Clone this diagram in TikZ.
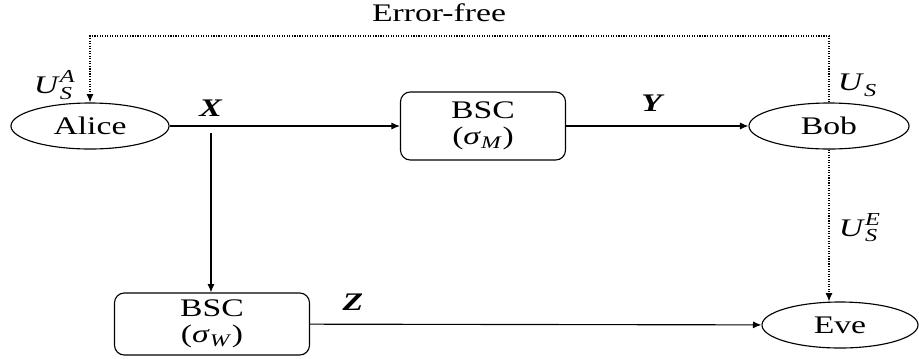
\documentclass[tikz,border=0pt]{standalone}
\usepackage{fontspec}
\setmainfont[FakeStretch=1.33]{Liberation Serif}
\usetikzlibrary{positioning}
\usetikzlibrary{shapes.geometric, arrows.meta}
\newcommand\idx[1]{{\fontsize{13}{13}\selectfont\textit{#1}}}
\newcommand\symb[3]{\textit{#1}\makebox[0pt][l]{\raisebox{7.5pt}{\idx{#3}}}\raisebox{-4pt}{\idx{#2}}}
\tikzstyle{party} = [ellipse, draw=black, line width=0.8pt, minimum width=3.95cm, minimum height=1.15cm, inner sep=0pt]
\tikzstyle{channel} = [rectangle, rounded corners=7pt, draw=black, line width=0.8pt, align=center, text centered, inner sep=0pt]
\tikzstyle{arrow} = [line width=0.8pt,-{Latex[length=6pt,width=5pt]}]
\tikzstyle{dotarrow} = [line width=0.8pt,densely dotted,-{Latex[length=6pt,width=5pt]}]

\begin{document}
\begin{tikzpicture}[x=0.025cm, y=-0.025cm, font=\fontsize{18}{18.5}\selectfont]
\useasboundingbox (0,0) rectangle (919,358);
\node[party] (alice) at (90,126) {Alice};
\node[party, minimum width=4cm] (bob) at (829,126) {Bob};
\node[party, minimum width=3.9cm] (eve) at (840,325) {Eve};
\node[channel, minimum width=4.125cm, minimum height=1.7cm] (bscm) at (483,126) {BSC\\(\textit{σ}\textsubscript{\textit{M}})};
\node[channel, minimum width=4.875cm, minimum height=1.55cm] (bscw) at (212,324) {BSC\\(\textit{σ}\textsubscript{\textit{W}})};
\coordinate (split) at (211,133);
\coordinate (top) at (440,36);
\draw[arrow] (alice) -- (bscm);
\draw[arrow] (bscm) -- (bob);
\draw[arrow] (split) -- (split |- bscw.north);
\draw[arrow] (bscw) -- (eve);
\draw[dotarrow] (bob.north) |- (top) -| (alice.north);
\draw[dotarrow] (bob.south) -- (bob.south |- eve.north);
\node (errfree) at (439,13) {Error-free};
\node (usa) at (53,85) {\symb{U}{S}{A}};
\node (x) at (211,108) {\textbf{\textit{X}}};
\node (y) at (653,103) {\textbf{\textit{Y}}};
\node (z) at (353,302) {\textbf{\textit{Z}}};
\node (us) at (857,85) {\symb{U}{S}{}};
\node (use) at (858,228) {\symb{U}{S}{E}};
\end{tikzpicture}
\end{document}
